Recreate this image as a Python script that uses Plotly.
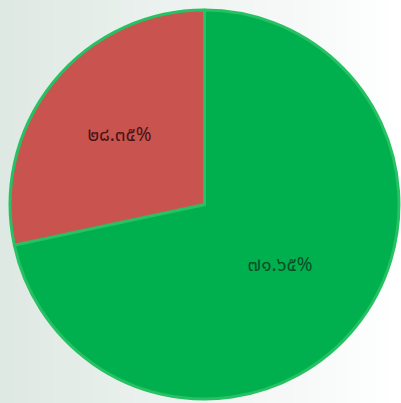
import plotly.graph_objects as go

labels = ["ส่วนที่ ๒", "ส่วนที่ ๑"]
values = [71.65, 28.35]
text_labels = ["๗๑.๖๕%", "๒๘.๓๕%"]
colors = ["#00b04f", "#c9534f"]
text_colors = ["#0c4f25", "#4a1414"]

fig = go.Figure()

# soft background gradient (left greenish-grey to white)
n = 30
for i in range(n):
    t = i / (n - 1)
    r = int(0xdf + (0xff - 0xdf) * t)
    g = int(0xe9 + (0xff - 0xe9) * t)
    b = int(0xe4 + (0xff - 0xe4) * t)
    fig.add_shape(type="rect", xref="paper", yref="paper",
                  x0=i / n, x1=(i + 1) / n + 0.002, y0=0, y1=1,
                  line=dict(width=0), fillcolor=f"rgb({r},{g},{b})", layer="below")

fig.add_trace(go.Pie(
    labels=labels, values=values, text=text_labels,
    texttemplate="%{text}", textposition="inside",
    insidetextorientation="horizontal",
    sort=False, direction="counterclockwise", rotation=0,
    marker=dict(colors=colors, line=dict(color="#27c062", width=3)),
    textfont=dict(size=19, color=text_colors,
                  family="Noto Sans Thai, Noto Sans, DejaVu Sans, sans-serif"),
    domain=dict(x=[0.02, 1.0], y=[0.01, 0.975]),
    showlegend=False, hoverinfo="skip",
))

fig.update_layout(
    width=401, height=403,
    margin=dict(l=0, r=0, t=0, b=0),
    paper_bgcolor="#f4f7f5", plot_bgcolor="rgba(0,0,0,0)",
    showlegend=False,
)

fig.write_html("out.html", config={"displayModeBar": False},
               post_script="document.body.style.margin='0';")
